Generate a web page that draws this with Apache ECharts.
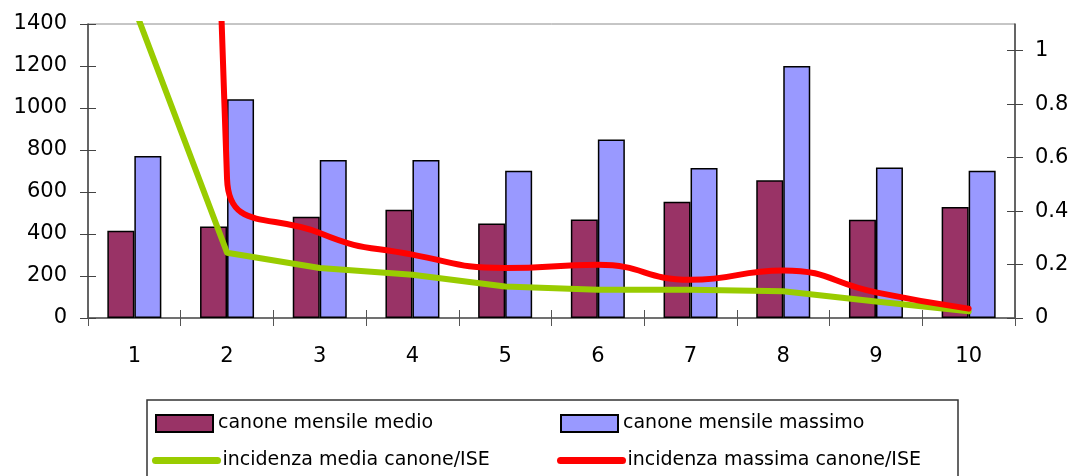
<!DOCTYPE html>
<html>
<head>
<meta charset="utf-8">
<script src="https://cdn.jsdelivr.net/npm/echarts@6/dist/echarts.min.js"></script>
<style>
  html, body { margin: 0; padding: 0; background: #fff; }
  #chart { width: 1074px; height: 476px; }
</style>
</head>
<body>
<div id="chart"></div>
<script>
// Decili di reddito
const categories = ['1', '2', '3', '4', '5', '6', '7', '8', '9', '10'];

// Canone mensile (euro), asse sinistro
const canoneMedio = [415, 436, 482, 515, 450, 469, 553, 656, 468, 528];
const canoneMassimo = [772, 1042, 752, 752, 701, 850, 714, 1200, 717, 701];

// Incidenza del canone sull'ISE, asse destro
const incidenzaMedia = [1.16, 0.244, 0.187, 0.162, 0.118, 0.106, 0.106, 0.10, 0.062, 0.025];
const incidenzaMassima = [20, 0.52, 0.318, 0.237, 0.187, 0.199, 0.143, 0.178, 0.096, 0.035];

// Tacche degli assi
const leftTicks = [0, 200, 400, 600, 800, 1000, 1200, 1400];
const rightTicks = [0, 0.2, 0.4, 0.6, 0.8, 1];

const seriesNames = [
  'canone mensile medio',
  'canone mensile massimo',
  'incidenza media canone/ISE',
  'incidenza massima canone/ISE'
];

const FONT = 'DejaVu Sans';
const labelStyle = { color: '#000', fontFamily: FONT, fontSize: 21 };
const legendText = { color: '#000', fontFamily: FONT, fontSize: 19 };
const plain = v => String(v);

const chart = echarts.init(document.getElementById('chart'), null, { renderer: 'canvas' });

chart.setOption({
  animation: false,
  backgroundColor: '#fff',
  grid: {
    left: 88, right: 59, top: 24, bottom: 158,
    show: true, borderColor: '#8c8c8c', borderWidth: 1, backgroundColor: 'transparent'
  },
  graphic: [{
    type: 'rect',
    shape: { x: 147, y: 400, width: 811, height: 100 },
    style: { fill: 'none', stroke: '#333', lineWidth: 1.5 },
    silent: true
  }],
  legend: [
    { data: [{ name: seriesNames[0], icon: 'rect' }], left: 155, top: 414, itemWidth: 57, itemHeight: 17, textStyle: legendText, selectedMode: false, padding: 0 },
    { data: [{ name: seriesNames[1], icon: 'rect' }], left: 560, top: 414, itemWidth: 57, itemHeight: 17, textStyle: legendText, selectedMode: false, padding: 0 },
    { data: [{ name: seriesNames[2] }], left: 152, top: 451, itemWidth: 62, itemHeight: 7, textStyle: legendText, selectedMode: false, padding: 0, lineStyle: { width: 7, cap: 'round' } },
    { data: [{ name: seriesNames[3] }], left: 557, top: 451, itemWidth: 62, itemHeight: 7, textStyle: legendText, selectedMode: false, padding: 0, lineStyle: { width: 7, cap: 'round' } }
  ],
  xAxis: [
    {
      type: 'category', data: categories, position: 'bottom',
      axisLine: { lineStyle: { color: '#555', width: 1.5 } },
      axisTick: { show: true, inside: false, length: 8, lineStyle: { color: '#555', width: 1 } },
      axisLabel: Object.assign({ margin: 28 }, labelStyle),
      splitLine: { show: false }
    },
    {
      type: 'category', data: categories, position: 'bottom',
      axisLine: { show: false },
      axisTick: { show: true, inside: true, length: 8, lineStyle: { color: '#555', width: 1 } },
      axisLabel: { show: false },
      splitLine: { show: false }
    }
  ],
  yAxis: [
    {
      type: 'value', position: 'left', min: 0, max: 1400, interval: 200,
      axisLine: { show: true, lineStyle: { color: '#444', width: 1.5 } },
      axisTick: { show: true, inside: false, length: 8, lineStyle: { color: '#444' }, customValues: leftTicks },
      axisLabel: Object.assign({ margin: 21, customValues: leftTicks, formatter: plain }, labelStyle),
      splitLine: { show: false }
    },
    {
      type: 'value', position: 'right', min: 0, max: 1.1,
      axisLine: { show: true, lineStyle: { color: '#444', width: 1.5 } },
      axisTick: { show: true, inside: false, length: 8, lineStyle: { color: '#444' }, customValues: rightTicks },
      axisLabel: Object.assign({ margin: 20, customValues: rightTicks, formatter: plain }, labelStyle),
      splitLine: { show: false }
    },
    {
      type: 'value', position: 'left', min: 0, max: 1400, interval: 200,
      axisLine: { show: false },
      axisTick: { show: true, inside: true, length: 8, lineStyle: { color: '#444' }, customValues: leftTicks },
      axisLabel: { show: false },
      splitLine: { show: false }
    },
    {
      type: 'value', position: 'right', min: 0, max: 1.1,
      axisLine: { show: false },
      axisTick: { show: true, inside: true, length: 8, lineStyle: { color: '#444' }, customValues: rightTicks },
      axisLabel: { show: false },
      splitLine: { show: false }
    }
  ],
  series: [
    {
      name: seriesNames[0], type: 'bar', data: canoneMedio,
      barWidth: 27, barGap: '0%',
      itemStyle: { color: '#993366', borderColor: '#000', borderWidth: 1.5 }
    },
    {
      name: seriesNames[1], type: 'bar', data: canoneMassimo,
      barWidth: 27, barGap: '0%',
      itemStyle: { color: '#9999ff', borderColor: '#000', borderWidth: 1.5 }
    },
    {
      name: seriesNames[2], type: 'line', yAxisIndex: 1, data: incidenzaMedia,
      symbol: 'none', smooth: false, z: 5,
      itemStyle: { color: '#99cc00' },
      lineStyle: { color: '#99cc00', width: 6, cap: 'round', join: 'round' }
    },
    {
      name: seriesNames[3], type: 'line', yAxisIndex: 1, data: incidenzaMassima,
      symbol: 'none', smooth: 0.5, z: 6,
      itemStyle: { color: '#ff0000' },
      lineStyle: { color: '#ff0000', width: 6, cap: 'round', join: 'round' }
    }
  ]
});
</script>
</body>
</html>
